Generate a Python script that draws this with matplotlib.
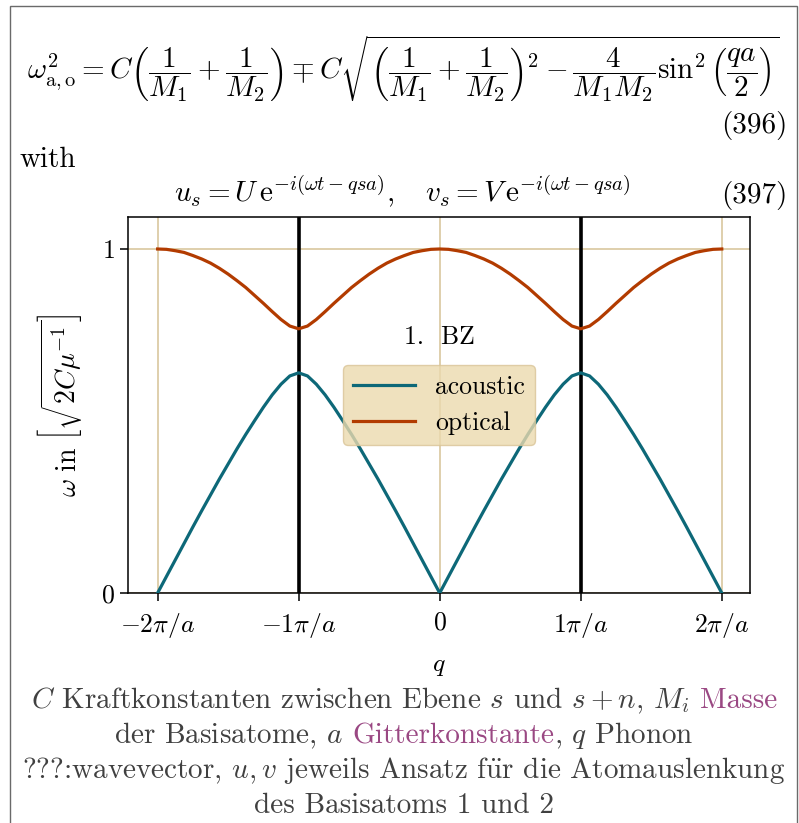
import matplotlib
matplotlib.use("Agg")
import matplotlib.pyplot as plt
from matplotlib.patches import Rectangle

plt.rcParams.update({
    "font.family": "serif",
    "font.serif": ["cmr10"],
    "mathtext.fontset": "cm",
    "axes.formatter.use_mathtext": True,
    "axes.unicode_minus": True,
})

W, H = 799, 823

# wave vector q in units of pi/a
q = [-2.0, -1.9375, -1.875, -1.8125, -1.75, -1.6875, -1.625, -1.5625,
     -1.5, -1.4375, -1.375, -1.3125, -1.25, -1.1875, -1.125, -1.0625,
     -1.0, -0.9375, -0.875, -0.8125, -0.75, -0.6875, -0.625, -0.5625,
     -0.5, -0.4375, -0.375, -0.3125, -0.25, -0.1875, -0.125, -0.0625,
     0.0, 0.0625, 0.125, 0.1875, 0.25, 0.3125, 0.375, 0.4375,
     0.5, 0.5625, 0.625, 0.6875, 0.75, 0.8125, 0.875, 0.9375,
     1.0, 1.0625, 1.125, 1.1875, 1.25, 1.3125, 1.375, 1.4375,
     1.5, 1.5625, 1.625, 1.6875, 1.75, 1.8125, 1.875, 1.9375, 2.0]

# omega in units of sqrt(2C/mu)
omega_acoustic = [
    0, 0.048, 0.096, 0.144, 0.192, 0.239, 0.285, 0.331, 0.375, 0.419, 0.461, 0.501, 0.540, 0.576, 0.607, 0.631,
    0.640, 0.631, 0.607, 0.576, 0.540, 0.501, 0.461, 0.419, 0.375, 0.331, 0.285, 0.239, 0.192, 0.144, 0.096, 0.048,
    0, 0.048, 0.096, 0.144, 0.192, 0.239, 0.285, 0.331, 0.375, 0.419, 0.461, 0.501, 0.540, 0.576, 0.607, 0.631,
    0.640, 0.631, 0.607, 0.576, 0.540, 0.501, 0.461, 0.419, 0.375, 0.331, 0.285, 0.239, 0.192, 0.144, 0.096, 0.048,
    0]
omega_optical = [
    1, 0.999, 0.995, 0.990, 0.981, 0.971, 0.959, 0.944, 0.927, 0.908, 0.888, 0.865, 0.842, 0.818, 0.795, 0.776,
    0.768, 0.776, 0.795, 0.818, 0.842, 0.865, 0.888, 0.908, 0.927, 0.944, 0.959, 0.971, 0.981, 0.990, 0.995, 0.999,
    1, 0.999, 0.995, 0.990, 0.981, 0.971, 0.959, 0.944, 0.927, 0.908, 0.888, 0.865, 0.842, 0.818, 0.795, 0.776,
    0.768, 0.776, 0.795, 0.818, 0.842, 0.865, 0.888, 0.908, 0.927, 0.944, 0.959, 0.971, 0.981, 0.990, 0.995, 0.999,
    1]

zone_edges = [-1, 1]
q_ticks = [-2, -1, 0, 1, 2]
q_tick_labels = [r"$-2\pi/a$", r"$-1\pi/a$", r"$0$", r"$1\pi/a$", r"$2\pi/a$"]
omega_ticks = [0, 1]
omega_tick_labels = [r"$0$", r"$1$"]

ACOUSTIC = "#0d6878"
OPTICAL = "#b23b00"
TAN = "#dccca6"
TEXT_GRAY = "#404040"
PURPLE = "#9a4883"
FS = 21
PLOT_FS = 18.5


def fx(x):
    return x / W


def fy(y):
    return 1 - y / H


fig = plt.figure(figsize=(W / 100, H / 100), dpi=100)

# page frame
fig.add_artist(Rectangle((fx(10), fy(840)), fx(797) - fx(10), fy(6) - fy(840),
                         transform=fig.transFigure, fill=False,
                         edgecolor="#6a6a6a", lw=1.0))

# equations
eq396 = (r"$\omega^2_{\mathrm{a,o}} = C\left(\dfrac{1}{M_1}+\dfrac{1}{M_2}\right)"
         r"\mp C\sqrt{\left(\dfrac{1}{M_1}+\dfrac{1}{M_2}\right)^2"
         r"-\dfrac{4}{M_1M_2}\sin^2\left(\dfrac{qa}{2}\right)}$")
fig.text(fx(403), fy(69), eq396, ha="center", va="center", fontsize=FS)
fig.text(fx(788), fy(126), "(396)", ha="right", va="center", fontsize=FS)
fig.text(fx(19), fy(160), "with", ha="left", va="center", fontsize=FS)
eq397 = (r"$u_s = U\,\mathrm{e}^{-i(\omega t-qsa)},\quad "
         r"v_s = V\,\mathrm{e}^{-i(\omega t-qsa)}$")
fig.text(fx(402), fy(192), eq397, ha="center", va="center", fontsize=FS)
fig.text(fx(788), fy(195), "(397)", ha="right", va="center", fontsize=FS)

# dispersion plot
ax = fig.add_axes([fx(128), fy(593), fx(750) - fx(128), fy(217) - fy(593)])
ax.plot(q, omega_acoustic, color=ACOUSTIC, lw=2.3, label="acoustic", zorder=3)
ax.plot(q, omega_optical, color=OPTICAL, lw=2.3, label="optical", zorder=3)
for edge in zone_edges:
    ax.axvline(edge, color="black", lw=2.6, zorder=2)
ax.grid(True, color=TAN, lw=1.3, zorder=0)
ax.set_axisbelow(True)
ax.set_xlim(-2.21, 2.2)
ax.set_ylim(0, 1.093)
ax.set_xticks(q_ticks, q_tick_labels)
ax.set_yticks(omega_ticks, omega_tick_labels)
ax.tick_params(labelsize=PLOT_FS, length=6, width=1.1)
ax.tick_params(axis="x", pad=7)
for sp in ax.spines.values():
    sp.set_linewidth(1.1)
ax.set_xlabel(r"$q$", fontsize=PLOT_FS, labelpad=10)
ax.set_ylabel(r"$\omega\ \mathrm{in}\ \left[\sqrt{2C\mu^{-1}}\right]$",
              fontsize=20, labelpad=12)
ax.text(0, 0.745, "1.  BZ", ha="center", va="center", fontsize=PLOT_FS)
leg = ax.legend(loc="center", fontsize=PLOT_FS, facecolor="#ebdaae",
                edgecolor="#d9c497", framealpha=0.8, handlelength=2.4,
                borderpad=0.4, labelspacing=0.45)

# caption below the plot, some words highlighted;
# a piece starting with a space gets an interword gap in front
caption = [
    [(r"$C$ Kraftkonstanten zwischen Ebene $s$ und $s+n$, $M_i$", TEXT_GRAY),
     (" Masse", PURPLE)],
    [(r"der Basisatome, $a$", TEXT_GRAY), (" Gitterkonstante", PURPLE),
     (r", $q$ Phonon", TEXT_GRAY)],
    [(r"???:wavevector, $u,v$ jeweils Ansatz f$\ddot{\mathrm{u}}$r die Atomauslenkung",
      TEXT_GRAY)],
    [("des Basisatoms 1 und 2", TEXT_GRAY)],
]
caption_y = [708, 743, 778, 813]

renderer = fig.canvas.get_renderer()
probe_a = fig.text(0, 0, "a a", fontsize=FS)
probe_b = fig.text(0, 0, "aa", fontsize=FS)
space = (probe_a.get_window_extent(renderer).width
         - probe_b.get_window_extent(renderer).width)
probe_a.remove()
probe_b.remove()

for pieces, y in zip(caption, caption_y):
    texts, widths = [], []
    for s, c in pieces:
        gap = space if s.startswith(" ") else 0
        t = fig.text(0, fy(y), s.lstrip(" "), color=c, fontsize=FS,
                     ha="left", va="baseline")
        texts.append((t, gap))
        widths.append(t.get_window_extent(renderer).width + gap)
    x = 404 - sum(widths) / 2
    for (t, gap), w in zip(texts, widths):
        t.set_x(fx(x + gap))
        x += w

fig.savefig("out.png", dpi=100)
